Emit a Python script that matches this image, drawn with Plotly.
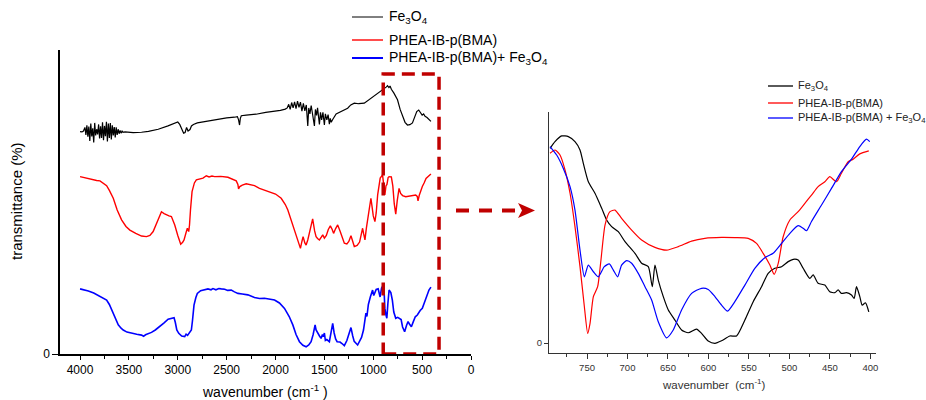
import plotly.graph_objects as go

# ---------------- Left panel: full FTIR spectra (4000-400 cm-1), arbitrary offset units ----------------
wn_fe = [4000, 3980, 3965, 3950, 3940, 3930, 3920, 3910, 3900, 3890, 3880, 3870, 3860, 3850, 3840, 3830,
         3820, 3810, 3800, 3790, 3780, 3770, 3760, 3750, 3740, 3730, 3720, 3710, 3700, 3690, 3680, 3670,
         3660, 3650, 3640, 3630, 3620, 3610, 3600, 3590, 3580, 3570, 3560, 3540, 3456, 3400, 3371, 3300,
         3200, 3100, 3030, 3000, 2980, 2955, 2940, 2925, 2910, 2895, 2875, 2860, 2840, 2800, 2700, 2600,
         2500, 2420, 2390, 2378, 2368, 2360, 2350, 2300, 2200, 2100, 2010, 1950, 1900, 1880, 1865, 1850,
         1835, 1820, 1805, 1790, 1775, 1760, 1745, 1730, 1715, 1700, 1685, 1670, 1660, 1648, 1635, 1620,
         1602, 1592, 1580, 1570, 1551, 1540, 1528, 1515, 1500, 1490, 1475, 1462, 1449, 1440, 1430, 1418,
         1400, 1380, 1262, 1230, 1194, 1150, 1092, 1040, 990, 930, 888, 865, 854, 840, 828, 815, 790, 752,
         725, 701, 675, 650, 625, 599, 575, 555, 535, 515, 500, 485, 470, 450, 430, 410]
t_fe = [74.1, 74.0, 74.3, 75.5, 73.0, 76.2, 72.4, 75.8, 71.0, 76.8, 72.5, 75.2, 70.5, 77.0, 72.8, 74.9,
        73.2, 76.5, 71.8, 75.9, 72.0, 77.2, 71.2, 76.0, 72.6, 77.4, 70.8, 76.8, 72.0, 77.0, 71.5, 76.2,
        72.8, 75.6, 72.2, 75.5, 73.0, 74.9, 73.4, 74.5, 73.6, 74.3, 73.9, 74.0, 73.8, 73.8, 73.9, 74.2,
        74.9, 76.0, 76.8, 77.3, 76.5, 75.0, 73.6, 73.8, 75.5, 74.3, 74.8, 76.0, 76.5, 77.0, 77.6, 78.2,
        78.7, 78.9, 79.1, 78.0, 76.3, 78.5, 79.4, 79.6, 79.9, 80.5, 80.8, 81.2, 81.6, 82.0, 83.2, 81.5,
        83.8, 82.0, 84.0, 81.8, 84.3, 82.2, 83.9, 80.9, 83.5, 81.0, 83.0, 76.0, 82.0, 80.0, 82.8, 79.0,
        76.0, 81.5, 79.5, 82.0, 76.5, 80.5, 78.0, 80.5, 76.3, 80.0, 78.0, 79.8, 76.6, 78.5, 77.2, 78.0,
        79.1, 80.0, 81.9, 83.0, 83.6, 83.4, 83.6, 84.8, 86.0, 87.5, 88.6, 89.0, 89.4, 88.8, 89.3, 88.2, 87.0, 84.7,
        81.5, 79.1, 77.2, 76.3, 76.4, 77.0, 79.0, 80.8, 81.3, 80.2, 79.6, 80.0, 79.2, 78.8, 78.0, 77.5]

wn_poly = [4000, 3940, 3881, 3830, 3796, 3760, 3728, 3700, 3660, 3620, 3575, 3530, 3490, 3430, 3371, 3320,
           3285, 3252, 3210, 3167, 3140, 3116, 3090, 3065, 3031, 3000, 2970, 2950, 2936, 2915, 2902, 2888,
           2880, 2870, 2854, 2830, 2810, 2742, 2708, 2680, 2650, 2623, 2560, 2487, 2440, 2402, 2385, 2378,
           2365, 2340, 2300, 2255, 2215, 2164, 2079, 2000, 1942, 1900, 1874, 1840, 1806, 1775, 1745, 1730,
           1718, 1700, 1687, 1670, 1650, 1620, 1600, 1585, 1570, 1551, 1530, 1517, 1500, 1480, 1460, 1439,
           1420, 1406, 1385, 1364, 1340, 1320, 1296, 1270, 1250, 1228, 1210, 1194, 1165, 1140, 1125, 1109,
           1098, 1085, 1070, 1051, 1035, 1024, 1012, 1000, 983, 970, 955, 940, 929, 905, 895, 881, 870, 860,
           848, 838, 815, 800, 785, 770, 755, 736, 720, 700, 668, 620, 580, 566, 550, 542, 530, 515, 498,
           480, 460, 430, 410]
t_poly = [59.1, 58.6, 58.0, 57.8, 57.7, 56.8, 56.1, 54.5, 51.9, 48.0, 44.7, 42.5, 41.3, 40.2, 39.3, 39.1,
          39.5, 40.8, 44.0, 47.4, 46.8, 46.3, 46.0, 45.8, 43.0, 39.5, 36.6, 37.2, 38.0, 40.5, 41.9, 40.8,
          43.0, 48.0, 54.1, 57.0, 58.0, 58.6, 59.4, 59.0, 59.3, 59.1, 59.2, 58.9, 58.3, 57.7, 56.5, 55.0,
          55.8, 56.3, 56.7, 56.5, 56.1, 55.2, 54.3, 53.3, 51.9, 49.8, 48.0, 44.5, 40.8, 37.5, 35.2, 37.5,
          39.1, 37.0, 36.3, 38.0, 41.0, 45.0, 41.0, 39.1, 38.5, 38.0, 39.0, 39.7, 38.6, 39.5, 41.5, 42.7,
          41.5, 40.2, 41.8, 43.0, 41.0, 39.0, 36.9, 36.7, 37.5, 39.4, 37.5, 35.8, 36.2, 37.3, 39.5, 41.9,
          40.0, 38.0, 42.0, 46.9, 50.0, 51.9, 49.0, 46.0, 44.1, 47.0, 53.0, 57.5, 58.6, 59.7, 57.0, 53.0, 56.0, 56.5,
          58.8, 59.1, 59.0, 56.0, 50.0, 46.6, 51.0, 55.2, 53.5, 52.8, 52.4, 52.7, 53.0, 53.0, 52.5, 51.0, 52.8, 54.5, 55.8,
          57.0, 58.5, 59.4, 60.0]

wn_comp = [4000, 3960, 3915, 3860, 3813, 3770, 3728, 3700, 3677, 3640, 3609, 3580, 3558, 3520, 3473, 3420,
           3371, 3350, 3330, 3300, 3269, 3230, 3184, 3140, 3099, 3060, 3038, 3025, 3010, 2990, 2960, 2929,
           2915, 2900, 2880, 2861, 2850, 2834, 2815, 2800, 2766, 2730, 2691, 2660, 2640, 2610, 2580, 2555,
           2520, 2490, 2453, 2420, 2385, 2340, 2283, 2215, 2164, 2113, 2060, 2010, 1960, 1908, 1860, 1823,
           1790, 1755, 1720, 1687, 1660, 1636, 1615, 1595, 1585, 1570, 1550, 1534, 1520, 1510, 1500, 1490,
           1475, 1449, 1430, 1415, 1400, 1385, 1370, 1340, 1320, 1296, 1270, 1245, 1228, 1210, 1195, 1160,
           1140, 1120, 1100, 1085, 1075, 1065, 1050, 1030, 1007, 995, 985, 970, 950, 940, 930, 915, 895, 888,
           881, 870, 861, 850, 838, 820, 805, 790, 770, 750, 735, 715, 700, 679, 660, 644, 630, 610, 590,
           570, 549, 530, 520, 498, 480, 460, 430, 410]
t_comp = [21.7, 21.4, 21.0, 20.3, 19.4, 18.8, 18.0, 16.5, 14.7, 12.0, 9.7, 8.6, 8.0, 7.3, 6.9, 6.6,
          6.3, 5.9, 6.4, 6.7, 7.2, 8.0, 9.1, 10.4, 11.6, 12.0, 12.1, 10.5, 8.0, 6.9, 6.0, 5.8,
          6.6, 6.2, 7.2, 8.0, 11.0, 16.3, 18.8, 20.2, 21.1, 21.3, 21.7, 21.4, 21.8, 21.4, 21.8, 21.7,
          21.6, 21.2, 21.3, 20.7, 20.2, 20.0, 19.7, 18.8, 18.5, 18.6, 18.4, 18.0, 17.0, 15.2, 12.5, 9.7,
          6.5, 4.1, 2.9, 2.4, 3.0, 4.1, 6.5, 9.7, 8.0, 7.0, 6.0, 5.2, 6.5, 5.8, 7.0, 4.5,
          4.8, 4.1, 7.0, 10.2, 7.0, 5.0, 4.1, 4.0, 3.5, 2.8, 4.5, 7.0, 8.8, 6.0, 4.2, 3.0,
          4.2, 5.5, 8.0, 11.0, 13.6, 12.5, 16.5, 19.0, 21.3, 19.5, 20.5, 21.5, 21.7, 20.0, 19.0, 22.0, 23.0, 20.0,
          15.2, 13.0, 11.9, 17.0, 21.3, 20.5, 18.0, 14.0, 11.9, 12.2, 12.0, 11.5, 9.0, 7.4, 9.5, 10.8, 10.0, 9.1, 10.8,
          12.4, 13.0, 14.0, 14.5, 15.2, 17.0, 18.8, 21.3, 22.3]

# ---------------- Right panel: zoom of the 800-400 cm-1 region ----------------
wn_fe_z = [795.7, 789.6, 781.3, 773.1, 764.9, 758.7, 754.6, 748.4, 740.2, 731.9, 725.8, 719.6, 711.4, 703.1,
           690.8, 682.6, 674.3, 669.4, 666.1, 662.0, 655.8, 649.6, 641.4, 633.2, 625.0, 614.7, 608.5, 600.3,
           592.0, 583.8, 573.5, 565.3, 555.0, 544.7, 534.4, 526.2, 518.0, 509.7, 501.5, 495.3, 489.2, 483.0,
           474.8, 470.6, 464.5, 456.2, 450.1, 443.9, 439.8, 435.7, 429.5, 423.3, 420.0, 417.1, 413.0, 410.1,
           406.0, 401.9]
t_fe_z = [84.6, 87.5, 90.0, 89.7, 87.5, 83.9, 78.1, 70.1, 65.1, 58.6, 53.5, 50.6, 48.4, 44.1,
          39.0, 34.7, 33.2, 24.5, 33.9, 27.4, 20.2, 14.4, 10.0, 5.7, 4.5, 6.1, 4.2, 0.9,
          -0.1, 1.0, 3.1, 3.1, 10.0, 18.0, 24.5, 30.3, 32.5, 33.2, 35.4, 36.4, 36.1, 32.5,
          28.1, 29.6, 26.0, 25.2, 22.3, 21.9, 23.1, 21.6, 21.9, 20.9, 19.4, 24.5, 20.2, 16.5,
          17.5, 13.6]

wn_poly_z = [795.7, 789.6, 783.4, 777.2, 771.0, 764.9, 758.7, 753.3, 749.2, 746.3, 742.2, 736.9, 732.8, 727.8,
             721.7, 715.5, 707.3, 694.9, 682.6, 666.1, 651.7, 637.3, 620.8, 604.4, 583.8, 567.4, 550.9, 540.6,
             532.4, 524.1, 518.8, 513.8, 507.7, 499.4, 489.2, 480.9, 472.7, 464.5, 456.2, 450.1, 441.8, 435.7,
             427.4, 421.3, 413.0, 401.9]
t_poly_z = [82.5, 83.9, 81.7, 75.2, 65.1, 50.6, 33.2, 15.8, 4.2, 8.6, 20.2, 24.5, 36.1, 51.3,
            57.1, 57.8, 54.2, 49.1, 44.8, 41.6, 40.4, 41.9, 44.3, 45.5, 45.9, 45.8, 45.5, 43.3,
            39.0, 33.9, 29.9, 34.6, 46.2, 53.5, 57.1, 60.7, 64.3, 68.0, 70.1, 72.3, 70.1, 73.8,
            78.8, 79.9, 82.2, 83.5]

wn_comp_z = [795.7, 787.5, 779.3, 771.0, 764.9, 758.7, 753.3, 748.4, 742.2, 736.1, 728.7, 722.5, 717.5, 712.2,
             707.3, 701.1, 694.9, 686.7, 678.4, 670.2, 662.0, 651.7, 643.5, 633.2, 620.8, 608.5, 600.3, 592.0,
             583.8, 576.4, 567.4, 555.0, 542.7, 530.3, 520.1, 509.7, 499.4, 489.2, 483.0, 478.9, 472.7, 460.3,
             448.0, 435.7, 423.3, 413.0, 404.8, 400.7]
t_comp_z = [85.4, 81.7, 75.9, 68.0, 57.8, 40.4, 28.8, 33.9, 31.0, 28.8, 33.2, 34.4, 31.7, 28.8,
            33.9, 35.8, 34.7, 30.3, 24.5, 18.7, 9.3, 2.3, 5.7, 14.4, 21.6, 23.8, 23.3, 20.2,
            16.5, 13.9, 18.0, 25.2, 32.5, 37.1, 39.0, 43.3, 47.7, 51.0, 49.9, 48.8, 52.8, 60.0,
            67.2, 74.5, 79.9, 85.4, 88.6, 87.5]

names = ["Fe<sub>3</sub>O<sub>4</sub>", "PHEA-IB-p(BMA)", "PHEA-IB-p(BMA)+ Fe<sub>3</sub>O<sub>4</sub>"]
names_z = ["Fe<sub>3</sub>O<sub>4</sub>", "PHEA-IB-p(BMA)", "PHEA-IB-p(BMA) + Fe<sub>3</sub>O<sub>4</sub>"]
colors = ["#000000", "#ff0000", "#0000ff"]

W, H = 926, 400
def px(x):
    return x / W
def py(y):
    return 1 - y / H

fig = go.Figure()
for wn, t, nm, c, lw in [(wn_fe, t_fe, names[0], colors[0], 1.2),
                          (wn_poly, t_poly, names[1], colors[1], 1.4),
                          (wn_comp, t_comp, names[2], colors[2], 1.6)]:
    fig.add_trace(go.Scatter(x=wn, y=t, mode="lines", name=nm, line=dict(color=c, width=lw),
                             xaxis="x", yaxis="y", showlegend=False, hoverinfo="skip"))
for wn, t, nm, c in [(wn_fe_z, t_fe_z, names_z[0], colors[0]),
                     (wn_poly_z, t_poly_z, names_z[1], colors[1]),
                     (wn_comp_z, t_comp_z, names_z[2], colors[2])]:
    fig.add_trace(go.Scatter(x=wn, y=t, mode="lines", name=nm,
                             line=dict(color=c, width=1.2, shape="spline", smoothing=0.6),
                             xaxis="x2", yaxis="y2", showlegend=False, hoverinfo="skip"))

font_family = "Liberation Sans, Arial, sans-serif"
red_dark = "#c00000"

# Legends drawn as line samples + text (left legend and right legend)
legend_shapes = []
legend_annots = []
for nm, c, yy, lw in zip(names, colors, [17, 40, 58], [1, 1.4, 2]):
    legend_shapes.append(dict(type="line", xref="paper", yref="paper", x0=px(352), x1=px(383),
                              y0=py(yy), y1=py(yy), line=dict(color=c, width=lw)))
    legend_annots.append(dict(text=nm, x=px(387), y=py(yy), xref="paper", yref="paper", showarrow=False,
                              xanchor="left", yanchor="middle", font=dict(size=14, color="black")))
for nm, c, yy in zip(names_z, colors, [86, 103, 118]):
    legend_shapes.append(dict(type="line", xref="paper", yref="paper", x0=px(768), x1=px(793),
                              y0=py(yy), y1=py(yy), line=dict(color=c, width=1.3)))
    legend_annots.append(dict(text=nm, x=px(796), y=py(yy), xref="paper", yref="paper", showarrow=False,
                              xanchor="left", yanchor="middle", font=dict(size=11, color="#222")))

fig.update_layout(
    width=W, height=H, margin=dict(l=0, r=0, t=0, b=0, autoexpand=False),
    paper_bgcolor="white", plot_bgcolor="white",
    font=dict(family=font_family, color="black"),
    showlegend=False,
    xaxis=dict(domain=[px(60), px(471)], range=[4205, 0], anchor="y", automargin=False,
               tickmode="linear", tick0=0, dtick=500, ticks="outside", ticklen=4,
               minor=dict(dtick=250, tick0=0, ticks="outside", ticklen=3, tickcolor="black"),
               showline=True, linecolor="black", linewidth=1.5, tickcolor="black",
               showgrid=False, zeroline=False, tickfont=dict(size=12)),
    yaxis=dict(domain=[py(354), py(50)], range=[0, 101.3], anchor="x", automargin=False,
               tickmode="array", tickvals=[0], ticks="outside", ticklen=6, tickcolor="black",
               showline=True, linecolor="black", linewidth=1.5,
               showgrid=False, zeroline=False, tickfont=dict(size=12)),
    xaxis2=dict(domain=[px(549), px(876)], range=[797, 393], anchor="y2", automargin=False,
                tickmode="linear", tick0=0, dtick=50, ticks="outside", ticklen=5,
                minor=dict(dtick=25, tick0=0, ticks="outside", ticklen=3, tickcolor="#333"),
                showline=True, linecolor="#333", linewidth=1.2, tickcolor="#333",
                showgrid=False, zeroline=False, tickfont=dict(size=9.5, color="#333")),
    yaxis2=dict(domain=[py(353), py(112)], range=[-4.3, 100.4], anchor="x2", automargin=False,
                tickmode="array", tickvals=[0], ticks="outside", ticklen=4, tickcolor="#333",
                showline=True, linecolor="#333", linewidth=1.2,
                showgrid=False, zeroline=False, tickfont=dict(size=9.5, color="#333")),
    annotations=[
        dict(text="wavenumber (cm<sup>-1</sup> )", x=px(265), y=py(391), xref="paper", yref="paper",
             showarrow=False, font=dict(size=14), xanchor="center", yanchor="middle"),
        dict(text="transmittance (%)", x=px(17), y=py(201), xref="paper", yref="paper",
             showarrow=False, font=dict(size=15), textangle=-90, xanchor="center", yanchor="middle"),
        dict(text="wavenumber  (cm<sup>-1</sup>)", x=px(714), y=py(384), xref="paper", yref="paper",
             showarrow=False, font=dict(size=11.5, color="#333"), xanchor="center", yanchor="middle"),
    ] + legend_annots,
    shapes=[
        dict(type="rect", xref="x", yref="y", x0=898, x1=327, y0=0, y1=93.3,
             line=dict(color=red_dark, width=3.5, dash="13px,7px"), fillcolor="rgba(0,0,0,0)"),
        dict(type="line", xref="paper", yref="paper", x0=px(456), x1=px(519), y0=py(210.5), y1=py(210.5),
             line=dict(color=red_dark, width=4, dash="13px,10px")),
        dict(type="path", xref="paper", yref="paper",
             path=f"M {px(518)},{py(203)} L {px(535)},{py(210.5)} L {px(518)},{py(218)} L {px(522)},{py(210.5)} Z",
             fillcolor=red_dark, line=dict(width=0)),
    ] + legend_shapes,
)

fig.write_html("out.html", config={"displayModeBar": False},
               post_script="document.body.style.margin='0';document.body.style.overflow='hidden';")
